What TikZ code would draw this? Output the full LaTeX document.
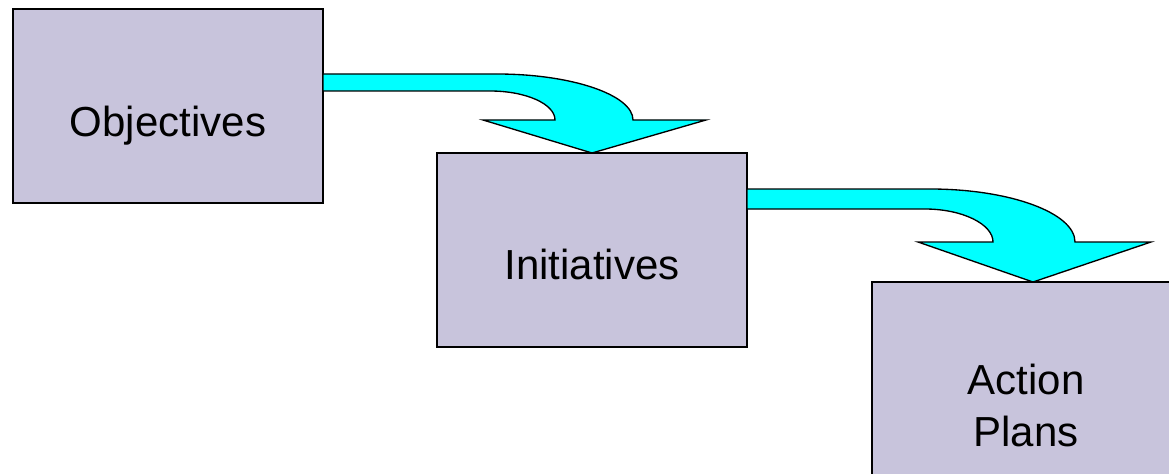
\documentclass[tikz,border=0pt]{standalone}
\usepackage{fontspec}
\setmainfont{Liberation Sans}
\usetikzlibrary{calc}
\definecolor{boxfill}{RGB}{200,196,220}
\definecolor{arrowfill}{RGB}{0,255,255}
\begin{document}
\begin{tikzpicture}[x=0.75pt,y=-0.75pt,
  box/.style={draw=black, line width=1pt, fill=boxfill, rectangle, inner sep=0pt, outer sep=0pt},
  boxtext/.style={font=\fontsize{31.5}{39}\selectfont, align=center, inner sep=0pt},
  bentarrow/.style={draw=black, line width=1pt, fill=arrowfill, line join=miter}]
\useasboundingbox (0,0) rectangle (1169,474);
\fill[white] (0,0) rectangle (1169,474);

% boxes
\node[box, minimum width=232.5pt, minimum height=145.5pt] (obj) at (168,106) {};
\node[boxtext, anchor=base] (objt) at ($(obj.center)+(0,31)$) {Objectives};

% arrow 1 geometry
\coordinate (a1st) at ($(obj.north east)+(0,65)$);
\coordinate (a1sb) at ($(obj.north east)+(0,82)$);
\coordinate (tip1) at (592,153);
\coordinate (x1a) at ($(tip1)+(-95,0)$);
\coordinate (x1b) at ($(tip1)+(-20,0)$);
\coordinate (x1c) at ($(tip1)+(-66,0)$);
\coordinate (x1d) at ($(tip1)+(-102,0)$);
\draw[bentarrow]
  (a1st) -- (x1a |- a1st)
  .. controls (x1b |- a1st) and ($(tip1)+(41,-58)$) .. ($(tip1)+(41,-33)$)
  -- ($(tip1)+(114,-33)$) -- (tip1) -- ($(tip1)+(-109,-33)$) -- ($(tip1)+(-37,-33)$)
  .. controls ($(tip1)+(-37,-49)$) and (x1c |- a1sb) .. (x1d |- a1sb)
  -- (a1sb) -- cycle;

\node[box, minimum width=232.5pt, minimum height=145.5pt, anchor=north] (ini) at (tip1) {};
\node[boxtext, anchor=base] (init) at ($(ini.center)+(0,29)$) {Initiatives};

% arrow 2 geometry
\coordinate (a2st) at ($(ini.north east)+(0,36)$);
\coordinate (a2sb) at ($(ini.north east)+(0,56)$);
\coordinate (tip2) at (1033,282);
\coordinate (x2a) at ($(tip2)+(-103,0)$);
\coordinate (x2b) at ($(tip2)+(-23,0)$);
\coordinate (x2c) at ($(tip2)+(-71,0)$);
\coordinate (x2d) at ($(tip2)+(-108,0)$);
\draw[bentarrow]
  (a2st) -- (x2a |- a2st)
  .. controls (x2b |- a2st) and ($(tip2)+(42,-69)$) .. ($(tip2)+(42,-40)$)
  -- ($(tip2)+(118,-40)$) -- (tip2) -- ($(tip2)+(-115,-40)$) -- ($(tip2)+(-40,-40)$)
  .. controls ($(tip2)+(-40,-58)$) and (x2c |- a2sb) .. (x2d |- a2sb)
  -- (a2sb) -- cycle;

\node[box, minimum width=231pt, minimum height=157.5pt, anchor=north west] (act) at (872,282) {};
\node[boxtext, anchor=center] (actt) at (1026,405) {Action\\Plans};
\end{tikzpicture}
\end{document}
